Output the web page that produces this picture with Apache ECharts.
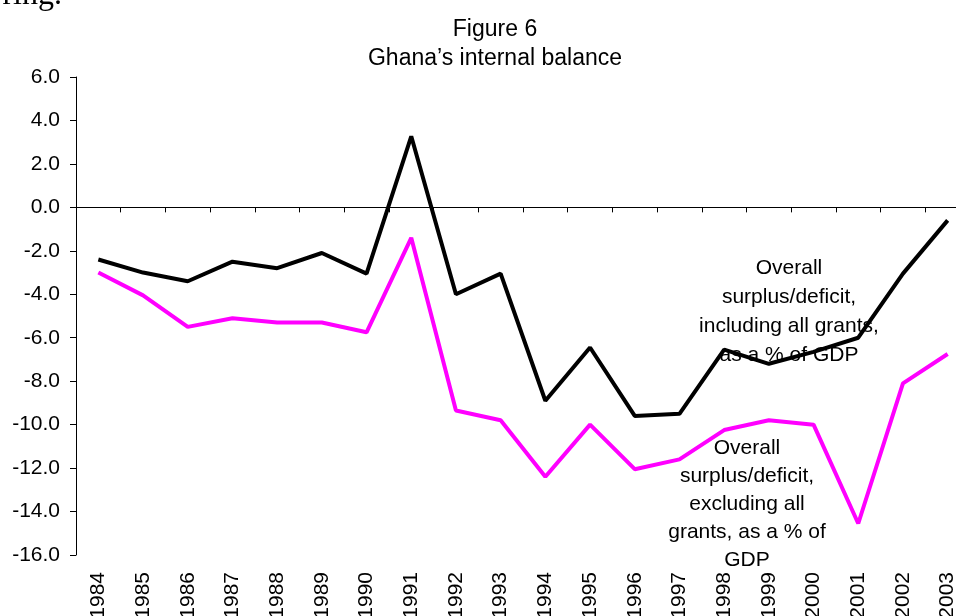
<!DOCTYPE html>
<html>
<head>
<meta charset="utf-8">
<script src="https://cdn.jsdelivr.net/npm/echarts@6/dist/echarts.min.js"></script>
<style>
  html, body { margin: 0; padding: 0; background: #fff; overflow: hidden; }
  #chart { width: 970px; height: 616px; }
</style>
</head>
<body>
<div id="chart"></div>
<script>
const years = ["1984", "1985", "1986", "1987", "1988", "1989", "1990", "1991", "1992", "1993",
  "1994", "1995", "1996", "1997", "1998", "1999", "2000", "2001", "2002", "2003"];

// overall surplus/deficit including all grants, % of GDP
const inclGrants = [-2.4, -3.0, -3.4, -2.5, -2.8, -2.1, -3.05, 3.27, -4.0, -3.05,
  -8.9, -6.45, -9.6, -9.5, -6.55, -7.2, -6.65, -6.0, -3.05, -0.6];

// overall surplus/deficit excluding all grants, % of GDP
const exclGrants = [-3.0, -4.05, -5.5, -5.1, -5.3, -5.3, -5.75, -1.4, -9.35, -9.8,
  -12.4, -10.0, -12.05, -11.6, -10.25, -9.8, -10.0, -14.55, -8.1, -6.75];

const yMin = -16, yMax = 6, yStep = 2;

const font = "Liberation Sans, Arial, sans-serif";

// the plot runs a little past the right edge of the picture, so the
// chart is 970px wide and the page clips it at 956
const chart = echarts.init(document.getElementById("chart"));

chart.setOption({
  animation: false,
  grid: { left: 76, right: 0, top: 77, bottom: 61, outerBoundsMode: "none" },
  title: {
    text: "Figure 6\nGhana\u2019s internal balance",
    left: 490,
    top: 10,
    textAlign: "center",
    textStyle: { fontFamily: font, fontSize: 23, fontWeight: "normal", color: "#000", lineHeight: 29 },
  },
  xAxis: [
    {
      type: "category",
      data: years,
      position: "bottom",
      axisLine: { show: false, onZero: false },
      axisTick: { show: false },
      axisLabel: {
        rotate: 90,
        margin: 17,
        color: "#000",
        fontFamily: font,
        fontSize: 21,
      },
    },
    {
      type: "category",
      data: years,
      position: "top",
      axisLine: { onZero: true, lineStyle: { color: "#000", width: 1 } },
      axisTick: { show: true, inside: true, length: 5, lineStyle: { color: "#000" } },
      axisLabel: { show: false },
    },
  ],
  yAxis: {
    type: "value",
    min: yMin,
    max: yMax,
    interval: yStep,
    axisLine: { show: true, lineStyle: { color: "#000", width: 1 } },
    axisTick: { show: true, length: 6, lineStyle: { color: "#000" } },
    splitLine: { show: false },
    axisLabel: {
      margin: 16,
      color: "#000",
      fontFamily: font,
      fontSize: 21,
      formatter: (v) => v.toFixed(1),
    },
  },
  series: [
    {
      name: "Including grants",
      type: "line",
      data: inclGrants,
      symbol: "none",
      lineStyle: { color: "#000", width: 4 },
      z: 3,
    },
    {
      name: "Excluding grants",
      type: "line",
      data: exclGrants,
      symbol: "none",
      lineStyle: { color: "#ff00ff", width: 4 },
      z: 2,
    },
  ],
  graphic: [
    {
      type: "text",
      x: 62,
      y: 12,
      style: {
        text: "ring.",
        font: "32px Liberation Serif, serif",
        fill: "#000",
        align: "right",
        verticalAlign: "bottom",
      },
    },
    {
      type: "text",
      x: 789,
      y: 254,
      style: {
        text: "Overall\nsurplus/deficit,\nincluding all grants,\nas a % of GDP",
        font: "21px " + font,
        fill: "#000",
        align: "center",
        lineHeight: 29,
      },
      z: 10,
    },
    {
      type: "text",
      x: 747,
      y: 434,
      style: {
        text: "Overall\nsurplus/deficit,\nexcluding all\ngrants, as a % of\nGDP",
        font: "21px " + font,
        fill: "#000",
        align: "center",
        lineHeight: 28,
      },
      z: 10,
    },
  ],
});
</script>
</body>
</html>
